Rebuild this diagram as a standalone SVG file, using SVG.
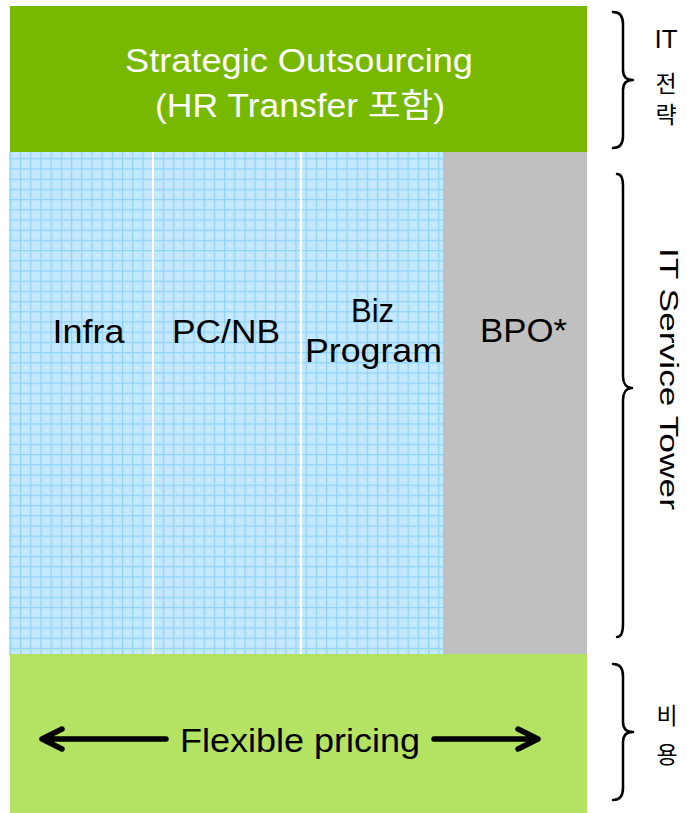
<svg xmlns="http://www.w3.org/2000/svg" width="687" height="813" viewBox="0 0 687 813">
<defs>
<pattern id="grid" x="9.8" y="148" width="10.2" height="10.2" patternUnits="userSpaceOnUse">
<rect width="10.2" height="10.2" fill="#c3e8fd"/>
<rect x="0" y="0" width="10.2" height="1.2" fill="#8ed3fb"/>
<rect x="0" y="0" width="1.2" height="10.2" fill="#8ed3fb"/>
<rect x="5" y="5" width="1" height="1" fill="#eaf7ff"/>
<rect x="2.5" y="3" width="0.8" height="0.8" fill="#d8f0ff"/>
<rect x="7.5" y="7.5" width="0.8" height="0.8" fill="#d8f0ff"/>
</pattern>
</defs>
<style>
.lbl{font-family:"Liberation Sans","Noto Sans CJK KR",sans-serif;fill:#000;}
.wht{font-family:"Liberation Sans","Noto Sans CJK KR",sans-serif;fill:#fff;}
.side{font-family:"Liberation Sans","Noto Sans CJK KR",sans-serif;fill:#000;font-size:26px;}
.ko{font-family:"Noto Sans CJK KR",sans-serif;fill:#000;font-size:23px;}
.brace{fill:none;stroke:#000;stroke-width:2.5;stroke-linecap:round;stroke-linejoin:round;}
.arrow{fill:none;stroke:#000;stroke-width:5.5;stroke-linecap:round;stroke-linejoin:round;}
</style>
<rect width="687" height="813" fill="#fff"/>

<g id="strategic">
<rect x="10" y="6" width="577" height="146" fill="#77b900"/>
<text class="wht" x="299" y="72" font-size="33" text-anchor="middle" textLength="348" lengthAdjust="spacingAndGlyphs">Strategic Outsourcing</text>
<text class="wht" x="300" y="117" font-size="33" text-anchor="middle" textLength="290" lengthAdjust="spacingAndGlyphs">(HR Transfer 포함)</text>
</g>

<g id="infra">
<rect x="9" y="152" width="143" height="503" fill="url(#grid)"/>
<text class="lbl" x="88.5" y="343" font-size="34" text-anchor="middle" textLength="72" lengthAdjust="spacingAndGlyphs">Infra</text>
</g>
<g id="pcnb">
<rect x="154" y="152" width="146" height="503" fill="url(#grid)"/>
<text class="lbl" x="226" y="343" font-size="34" text-anchor="middle" textLength="108" lengthAdjust="spacingAndGlyphs">PC/NB</text>
</g>
<g id="biz">
<rect x="302" y="152" width="141" height="503" fill="url(#grid)"/>
<text class="lbl" x="372.5" y="322" font-size="34" text-anchor="middle" textLength="43" lengthAdjust="spacingAndGlyphs">Biz</text>
<text class="lbl" x="373.5" y="362" font-size="34" text-anchor="middle" textLength="137" lengthAdjust="spacingAndGlyphs">Program</text>
</g>
<g id="bpo">
<rect x="443" y="152" width="144" height="503" fill="#c0c0c0"/>
<text class="lbl" x="523.5" y="342" font-size="34" text-anchor="middle" textLength="87" lengthAdjust="spacingAndGlyphs">BPO*</text>
</g>

<g id="pricing">
<rect x="10" y="654" width="577" height="159" fill="#b4e262"/>
<text class="lbl" x="300" y="752" font-size="34" text-anchor="middle" textLength="240" lengthAdjust="spacingAndGlyphs">Flexible pricing</text>
</g>

<g id="connectors">
<path class="arrow" d="M166,739 H42 M62,729 L42,739 L62,749"/>
<path class="arrow" d="M434,739 H538 M518,729 L538,739 L518,749"/>
<path class="brace" d="M613,12 C620,12 623,16 623,24 V70 C623,76 626,80 633,80 C626,80 623,84 623,90 V136 C623,144 620,148 613,148"/>
<path class="brace" d="M617,174 C621,174 623,178 623,186 V376 C623,383 626,388 632,388 C626,388 623,393 623,400 V624 C623,632 621,637 617,637"/>
<path class="brace" d="M613,664 C620,664 623,668 623,676 V722 C623,728 626,732 633,732 C626,732 623,736 623,742 V788 C623,796 620,800 613,800"/>
</g>

<g id="label-it">
<text class="side" x="666" y="48" text-anchor="middle">IT</text>
<text class="ko" x="666" y="92" text-anchor="middle">전</text>
<text class="ko" x="666" y="123" text-anchor="middle">략</text>
</g>
<g id="label-tower">
<text class="side" transform="translate(660,379) rotate(90)" text-anchor="middle" textLength="262" lengthAdjust="spacingAndGlyphs">IT Service Tower</text>
</g>
<g id="label-cost">
<text class="ko" x="667" y="724" text-anchor="middle">비</text>
<text class="ko" x="667" y="763" text-anchor="middle">용</text>
</g>
</svg>
